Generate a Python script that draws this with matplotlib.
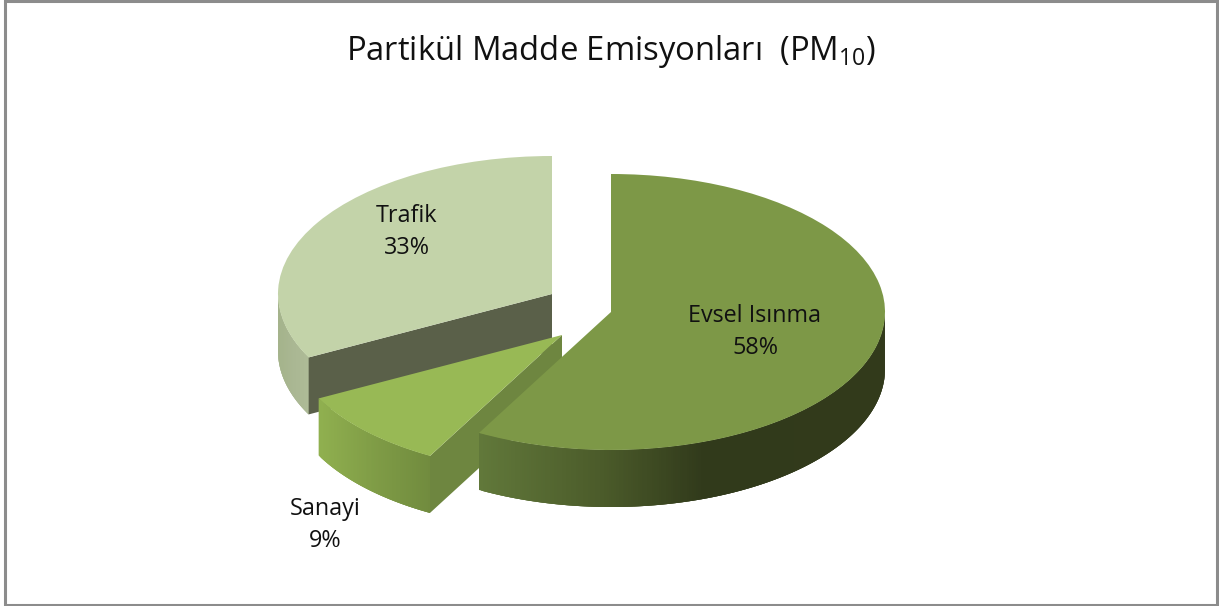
import numpy as np
import matplotlib
matplotlib.use('Agg')
import matplotlib.pyplot as plt
from matplotlib.colors import LinearSegmentedColormap

plt.rcParams['font.family'] = 'Open Sans'
plt.rcParams['mathtext.fontset'] = 'custom'
plt.rcParams['mathtext.rm'] = 'Open Sans'
plt.rcParams['mathtext.default'] = 'regular'

# data
names = ['Evsel Isınma', 'Sanayi', 'Trafik']
values = [58, 9.4, 32.6]
title = 'Partikül Madde Emisyonları  (PM$_{10}$)'

# look
W, H = 1219, 606
RX, RY = 274.0, 138.0      # ellipse radii in pixels, one data unit each way
DEPTH = 57 / RY
top_colors = ['#7d9847', '#98b955', '#c3d3a9']
face_colors = [None, '#6e8640', '#5a6049']
wall_colors = [[(0, '#61783a'), (0.3, '#4b5b2a'), (0.55, '#313a1b'), (1, '#323a1b')],
               [(0, '#90b04f'), (0.5, '#7f9c46'), (1, '#718b3e')],
               [(0, '#a4b38b'), (0.5, '#aab793'), (1, '#aebb97')]]
centers_px = [(611, 312), (562, 335), (552, 294)]
label_px = [(755, 332), (325, 525), (407, 232)]


def to_data(px, py):
    return px / RX, (H - py) / RY


fig = plt.figure(figsize=(W / 100, H / 100), dpi=100)
ax = fig.add_axes([0, 0, 1, 1])

wedges, _ = ax.pie(values, startangle=90, counterclock=False, colors=top_colors,
                   wedgeprops={'linewidth': 0})
ax.set_aspect('auto')
ax.set_xlim(0, W / RX)
ax.set_ylim(0, H / RY)
ax.axis('off')

# sanayi goes under evsel, trafik under both
for z, i in enumerate([2, 1, 0]):
    w = wedges[i]
    cx, cy = to_data(*centers_px[i])
    w.set_center((cx, cy))
    w.set_zorder(z * 3 + 3)

    # outer wall, only the part facing the viewer
    th = np.append(np.arange(w.theta1, w.theta2, 0.5), w.theta2)
    th = th[np.sin(np.radians(th)) <= 1e-9]
    x = cx + np.cos(np.radians(th))
    y = cy + np.sin(np.radians(th))
    cmap = LinearSegmentedColormap.from_list('wall', wall_colors[i])
    # each strip overlaps the next ones so no seams show
    for k in range(len(th) - 1):
        c = cmap((x[k] - x[0]) / (x[-1] - x[0]))
        end = min(k + 4, len(th))
        xs = np.concatenate([x[k:end], x[k:end][::-1]])
        ys = np.concatenate([y[k:end], y[k:end][::-1] - DEPTH])
        ax.fill(xs, ys, color=c, lw=0, zorder=z * 3 + 1)

    # cut face hanging from the wedge's last edge
    if face_colors[i]:
        a = np.radians(w.theta2)
        ex, ey = cx + np.cos(a), cy + np.sin(a)
        ax.fill([cx, ex, ex, cx], [cy, ey, ey - DEPTH, cy - DEPTH],
                color=face_colors[i], lw=0, zorder=z * 3 + 2)

    lx, ly = to_data(*label_px[i])
    ax.text(lx, ly, f'{names[i]}\n{values[i]:.0f}%', ha='center', va='center',
            fontsize=16.8, color='#111111', linespacing=1.42, zorder=20)

ax.text(611 / RX, (H - 52) / RY, title, ha='center', va='center', fontsize=23.6, color='#111111')

# chart frame
frame = plt.Rectangle((5 / W, 1 / H), (W - 7) / W, (H - 2) / H, transform=fig.transFigure,
                      fill=False, ec='#8c8c8c', lw=2.2)
fig.add_artist(frame)

fig.savefig('out.png', dpi=100)
